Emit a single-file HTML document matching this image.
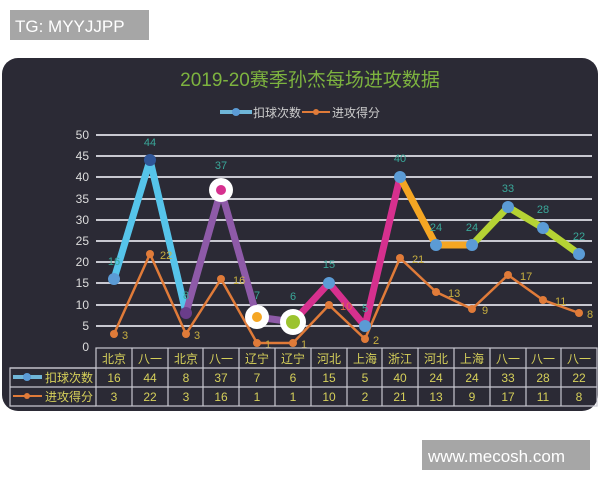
<!DOCTYPE html>
<html><head><meta charset="utf-8"><style>
body{margin:0;width:600px;height:480px;background:#fff;overflow:hidden;font-family:"Liberation Sans","Noto Sans CJK SC",sans-serif}
</style></head><body>
<svg width="600" height="480" xmlns="http://www.w3.org/2000/svg" font-family="Liberation Sans, Noto Sans CJK SC, sans-serif">
<rect x="10" y="10" width="139" height="30" fill="#a6a6a6"/>
<text x="15" y="32" font-size="17" fill="#fff">TG: MYYJJPP</text>
<rect x="2" y="58" width="596" height="353" rx="16" fill="#2b2a35"/>
<text x="310" y="86" font-size="19" fill="#7db33f" text-anchor="middle">2019-20赛季孙杰每场进攻数据</text>
<line x1="220" y1="112" x2="252" y2="112" stroke="#6fb6d8" stroke-width="4"/><circle cx="236" cy="112" r="4" fill="#5b9bd5"/>
<text x="253" y="117" font-size="12" fill="#ccc">扣球次数</text>
<line x1="302" y1="112" x2="330" y2="112" stroke="#e07b39" stroke-width="2"/><circle cx="316" cy="112" r="3" fill="#e07b39"/>
<text x="332" y="117" font-size="12" fill="#ccc">进攻得分</text>
<g stroke="#c8c8d0" stroke-width="2">
<line x1="96" y1="135" x2="592" y2="135"/><line x1="96" y1="156" x2="592" y2="156"/><line x1="96" y1="177" x2="592" y2="177"/><line x1="96" y1="199" x2="592" y2="199"/><line x1="96" y1="220" x2="592" y2="220"/><line x1="96" y1="241" x2="592" y2="241"/><line x1="96" y1="262" x2="592" y2="262"/><line x1="96" y1="283" x2="592" y2="283"/><line x1="96" y1="305" x2="592" y2="305"/><line x1="96" y1="326" x2="592" y2="326"/>
</g>
<g font-size="12" fill="#ddd" text-anchor="end">
<text x="89" y="139">50</text><text x="89" y="160">45</text><text x="89" y="181">40</text><text x="89" y="203">35</text><text x="89" y="224">30</text><text x="89" y="245">25</text><text x="89" y="266">20</text><text x="89" y="287">15</text><text x="89" y="309">10</text><text x="89" y="330">5</text><text x="89" y="351">0</text>
</g>
<polyline fill="none" stroke="#e07b39" stroke-width="2.5" points="114,334 150,254 186,334 221,279 257,343 293,343 329,305 365,339 400,258 436,292 472,309 508,275 543,300 579,313"/>
<g fill="#e07b39"><circle cx="114" cy="334" r="4"/><circle cx="150" cy="254" r="4"/><circle cx="186" cy="334" r="4"/><circle cx="221" cy="279" r="4"/><circle cx="257" cy="343" r="4"/><circle cx="293" cy="343" r="4"/><circle cx="329" cy="305" r="4"/><circle cx="365" cy="339" r="4"/><circle cx="400" cy="258" r="4"/><circle cx="436" cy="292" r="4"/><circle cx="472" cy="309" r="4"/><circle cx="508" cy="275" r="4"/><circle cx="543" cy="300" r="4"/><circle cx="579" cy="313" r="4"/></g>
<g fill="none" stroke-width="7" stroke-linejoin="round">
<polyline stroke="#56c4ea" points="114,279 150,160 186,313"/>
<polyline stroke="#8e5aa8" points="186,313 221,190 257,317 293,322"/>
<polyline stroke="#d6308e" points="293,322 329,283 365,326 400,177"/>
<polyline stroke="#f5a623" points="400,177 436,245 472,245"/>
<polyline stroke="#b5d334" points="472,245 508,207 543,228 579,254"/>
</g>
<g fill="#5b9bd5"><circle cx="114" cy="279" r="6"/><circle cx="150" cy="160" r="6" fill="#2f5597"/><circle cx="186" cy="313" r="6" fill="#6a3d8a"/><circle cx="329" cy="283" r="6"/><circle cx="365" cy="326" r="6"/><circle cx="400" cy="177" r="6"/><circle cx="436" cy="245" r="6"/><circle cx="472" cy="245" r="6"/><circle cx="508" cy="207" r="6"/><circle cx="543" cy="228" r="6"/><circle cx="579" cy="254" r="6"/></g>
<circle cx="221" cy="190" r="12" fill="#fff"/><circle cx="221" cy="190" r="5" fill="#d6308e"/>
<circle cx="257" cy="317" r="12" fill="#fff"/><circle cx="257" cy="317" r="5" fill="#f5a623"/>
<circle cx="293" cy="322" r="13" fill="#fff"/><circle cx="293" cy="322" r="7" fill="#9cc32f"/>
<g font-size="11" fill="#3aa89a" text-anchor="middle">
<text x="114" y="265">16</text><text x="150" y="146">44</text><text x="186" y="299">8</text><text x="221" y="169">37</text><text x="257" y="299">7</text><text x="293" y="300">6</text><text x="329" y="268">15</text><text x="365" y="312">5</text><text x="400" y="162">40</text><text x="436" y="231">24</text><text x="472" y="231">24</text><text x="508" y="192">33</text><text x="543" y="213">28</text><text x="579" y="240">22</text>
</g>
<g font-size="11" fill="#c9b040">
<text x="122" y="339">3</text><text x="160" y="259">22</text><text x="194" y="339">3</text><text x="233" y="284">16</text><text x="265" y="348">1</text><text x="301" y="348">1</text><text x="340" y="310" fill="#e06a4a">10</text><text x="373" y="344">2</text><text x="412" y="263">21</text><text x="448" y="297">13</text><text x="482" y="314">9</text><text x="520" y="280">17</text><text x="555" y="305">11</text><text x="587" y="318">8</text>
</g>
<g stroke="#c8c8d0" stroke-width="1.2" fill="none">
<rect x="96" y="348" width="501" height="58"/>
<line x1="10" y1="368" x2="597" y2="368"/><line x1="10" y1="387" x2="597" y2="387"/>
<polyline points="96,368 10,368 10,406 96,406"/>
<line x1="132" y1="348" x2="132" y2="406"/><line x1="168" y1="348" x2="168" y2="406"/><line x1="203" y1="348" x2="203" y2="406"/><line x1="239" y1="348" x2="239" y2="406"/><line x1="275" y1="348" x2="275" y2="406"/><line x1="311" y1="348" x2="311" y2="406"/><line x1="347" y1="348" x2="347" y2="406"/><line x1="382" y1="348" x2="382" y2="406"/><line x1="418" y1="348" x2="418" y2="406"/><line x1="454" y1="348" x2="454" y2="406"/><line x1="490" y1="348" x2="490" y2="406"/><line x1="526" y1="348" x2="526" y2="406"/><line x1="561" y1="348" x2="561" y2="406"/>
</g>
<line x1="13" y1="377" x2="42" y2="377" stroke="#6fb6d8" stroke-width="4"/><circle cx="27" cy="377" r="4" fill="#5b9bd5"/>
<line x1="13" y1="396" x2="42" y2="396" stroke="#e07b39" stroke-width="2"/><circle cx="27" cy="396" r="3" fill="#e07b39"/>
<g font-size="12" fill="#d6d05a" text-anchor="middle">
<text x="69" y="382">扣球次数</text><text x="69" y="401">进攻得分</text>
<text x="114" y="363">北京</text><text x="150" y="363">八一</text><text x="186" y="363">北京</text><text x="221" y="363">八一</text><text x="257" y="363">辽宁</text><text x="293" y="363">辽宁</text><text x="329" y="363">河北</text><text x="365" y="363">上海</text><text x="400" y="363">浙江</text><text x="436" y="363">河北</text><text x="472" y="363">上海</text><text x="508" y="363">八一</text><text x="543" y="363">八一</text><text x="579" y="363">八一</text>
<text x="114" y="382">16</text><text x="150" y="382">44</text><text x="186" y="382">8</text><text x="221" y="382">37</text><text x="257" y="382">7</text><text x="293" y="382">6</text><text x="329" y="382">15</text><text x="365" y="382">5</text><text x="400" y="382">40</text><text x="436" y="382">24</text><text x="472" y="382">24</text><text x="508" y="382">33</text><text x="543" y="382">28</text><text x="579" y="382">22</text>
<text x="114" y="401">3</text><text x="150" y="401">22</text><text x="186" y="401">3</text><text x="221" y="401">16</text><text x="257" y="401">1</text><text x="293" y="401">1</text><text x="329" y="401">10</text><text x="365" y="401">2</text><text x="400" y="401">21</text><text x="436" y="401">13</text><text x="472" y="401">9</text><text x="508" y="401">17</text><text x="543" y="401">11</text><text x="579" y="401">8</text>
</g>
<rect x="422" y="440" width="168" height="30" fill="#a6a6a6"/>
<text x="428" y="462" font-size="17" fill="#fff">www.mecosh.com</text>
</svg>
</body></html>
